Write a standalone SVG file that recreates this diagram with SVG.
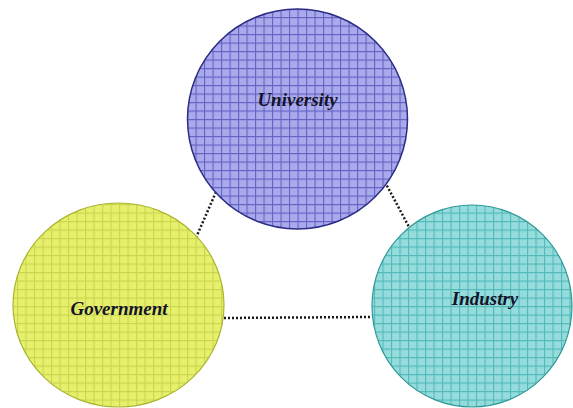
<svg xmlns="http://www.w3.org/2000/svg" width="573" height="408" viewBox="0 0 573 408">
  <defs>
    <!-- cross-hatched grid fills for each sphere -->
    <pattern id="gridBlue" width="8.5" height="8.5" patternUnits="userSpaceOnUse">
      <rect width="8.5" height="8.5" fill="#a9a9ec"/>
      <path d="M0 0.5H8.5M0.5 0V8.5" stroke="#6464c4" stroke-width="1.2" fill="none"/>
    </pattern>
    <pattern id="gridYellow" width="8.5" height="8.5" patternUnits="userSpaceOnUse">
      <rect width="8.5" height="8.5" fill="#e6f06c"/>
      <path d="M0 0.5H8.5M0.5 0V8.5" stroke="#cbd64e" stroke-width="1.2" fill="none"/>
    </pattern>
    <pattern id="gridTeal" width="8.5" height="8.5" patternUnits="userSpaceOnUse">
      <rect width="8.5" height="8.5" fill="#96dcdc"/>
      <path d="M0 0.5H8.5M0.5 0V8.5" stroke="#52b9b9" stroke-width="1.2" fill="none"/>
    </pattern>
  </defs>
  <style>
    .label { font-family: "Liberation Serif", "Times New Roman", serif; font-weight: bold; font-style: italic; font-size: 19px; fill: #141428; text-anchor: middle; }
    .link { stroke: #1a1a1a; stroke-width: 2.5; stroke-dasharray: 2 2; fill: none; }
  </style>
  <rect width="573" height="408" fill="#ffffff"/>

  <g id="connectors">
    <line class="link" x1="216" y1="192" x2="195" y2="240"/>
    <line class="link" x1="385" y1="182" x2="409" y2="227"/>
    <line class="link" x1="224" y1="318" x2="372" y2="317"/>
  </g>

  <g id="university">
    <circle cx="297.5" cy="119" r="110" fill="url(#gridBlue)" stroke="#2c2c86" stroke-width="1.5"/>
    <text class="label" x="297.5" y="106">University</text>
  </g>

  <g id="government">
    <ellipse cx="118.5" cy="305" rx="105.5" ry="102" fill="url(#gridYellow)" stroke="#a9b530" stroke-width="1.2"/>
    <text class="label" x="119" y="315">Government</text>
  </g>

  <g id="industry">
    <ellipse cx="472" cy="306" rx="100" ry="101" fill="url(#gridTeal)" stroke="#2f9a9a" stroke-width="1.2"/>
    <text class="label" x="485" y="305">Industry</text>
  </g>
</svg>
